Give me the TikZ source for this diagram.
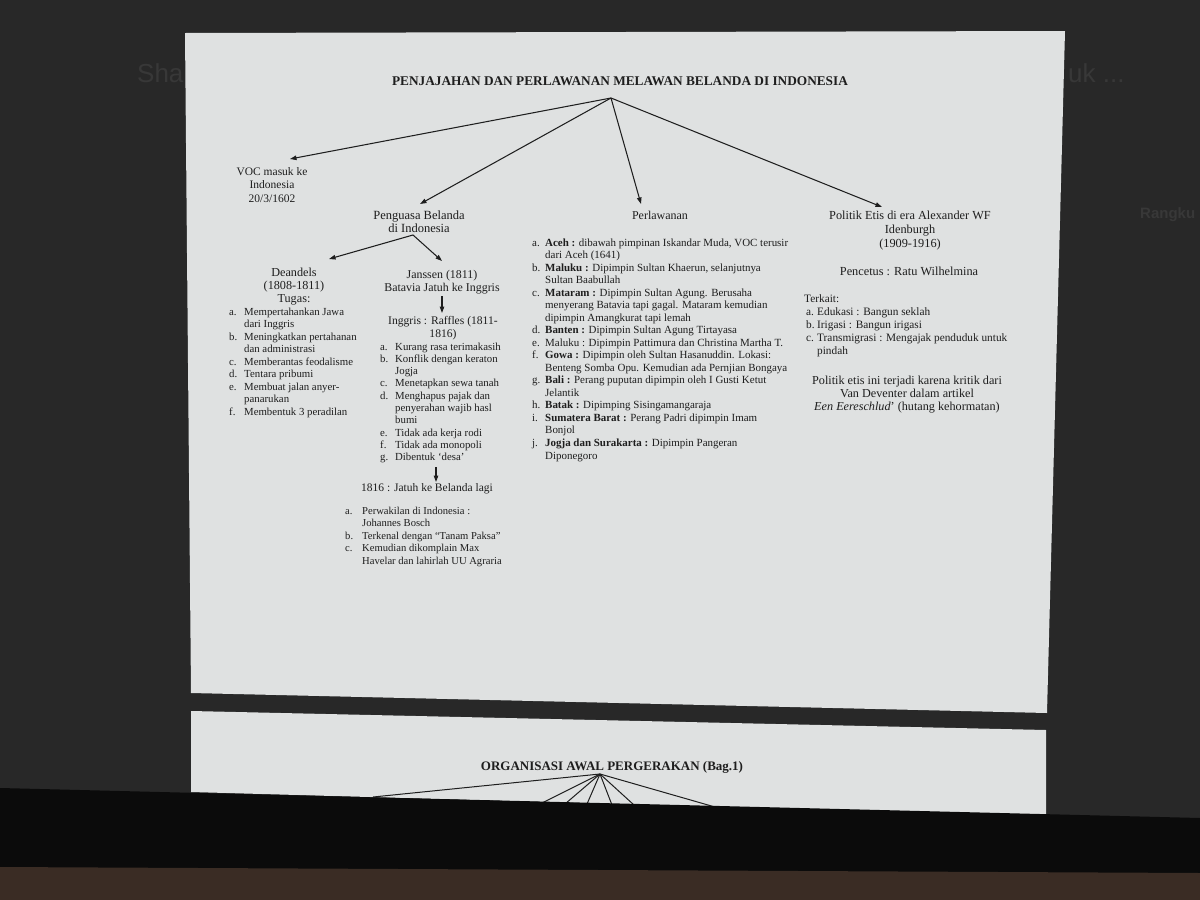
\documentclass[tikz,border=0pt]{standalone}
\usepackage{fontspec}
\setmainfont{Liberation Serif}
\newfontfamily\uifont{Liberation Sans}
\usetikzlibrary{arrows.meta}
\definecolor{scr}{HTML}{282828}
\definecolor{paper}{HTML}{DFE1E1}
\definecolor{ink}{HTML}{1E1E1E}
\definecolor{bezel}{HTML}{0B0B0B}
\definecolor{desk}{HTML}{3A2C24}
\definecolor{ghost}{HTML}{383838}
\newcommand{\mk}[1]{\makebox[13pt][l]{\hspace{2pt}#1}}
\tikzset{
  conn/.style={draw=ink, line width=1.05pt, -{Triangle[length=6.5pt,width=4.5pt]}},
  plainline/.style={draw=ink, line width=1pt},
  lbl/.style={inner sep=0pt, text=ink, font=\fontsize{12}{13}\selectfont, anchor=base},
  lst/.style={inner sep=0pt, text=ink, font=\fontsize{10.8}{12.5}\selectfont, anchor=base west},
  ttl/.style={inner sep=0pt, text=ink, font=\fontsize{13.3}{15}\selectfont\bfseries, anchor=base},
  ghosttxt/.style={inner sep=0pt, text=ghost, anchor=base west},
}
\begin{document}
\begin{tikzpicture}[x=1pt,y=-1pt]
\useasboundingbox (0,0) rectangle (1200,900);
% screen background
\fill[scr] (0,0) rectangle (1200,900);
\node[ghosttxt, font=\uifont\fontsize{26}{30}\selectfont] (ghsha) at (137,82) {Sha};
\node[ghosttxt, font=\uifont\fontsize{26}{30}\selectfont] (ghuk) at (1068,82) {uk ...};
\node[ghosttxt, font=\uifont\bfseries\fontsize{15}{18}\selectfont] (ghrang) at (1140,218) {Rangku};
% page 1
\fill[paper] (185,33) -- (1065,31) -- (1047,713) -- (191,693) -- cycle;
% page 2
\fill[paper] (191,711) -- (1046,730) -- (1046,816) -- (191,792) -- cycle;

% ---- page 1 content ----
\node[ttl] (title) at (620,85) {PENJAJAHAN DAN PERLAWANAN MELAWAN BELANDA DI INDONESIA};
\coordinate (r1) at (611,98);

\node[lbl, font=\fontsize{11.5}{13.5}\selectfont] (voc) at (272,175) {\begin{tabular}[t]{@{}c@{}}VOC masuk ke\\Indonesia\\20/3/1602\end{tabular}};
\node[lbl, font=\fontsize{12.5}{13}\selectfont] (peng) at (419,219) {\begin{tabular}[t]{@{}c@{}}Penguasa Belanda\\di Indonesia\end{tabular}};
\node[lbl] (perl) at (660,219) {Perlawanan};
\node[lbl, font=\fontsize{12.3}{14}\selectfont] (etis) at (910,219) {\begin{tabular}[t]{@{}c@{}}Politik Etis di era Alexander WF\\Idenburgh\\(1909-1916)\end{tabular}};

\coordinate (vocTip) at (290,159);
\coordinate (pengTip) at (420,204);
\coordinate (perlTip) at (641,204);
\coordinate (etisTip) at (882,207);
\draw[conn] (r1) -- (vocTip);
\draw[conn] (r1) -- (pengTip);
\draw[conn] (r1) -- (perlTip);
\draw[conn] (r1) -- (etisTip);

% Penguasa branch
\coordinate (r2) at (413,235);
\coordinate (deTip) at (329,259);
\coordinate (jaTip) at (442,261);
\draw[conn] (r2) -- (deTip);
\draw[conn] (r2) -- (jaTip);

\node[lbl, font=\fontsize{12.2}{13}\selectfont] (dean) at (294,276) {\begin{tabular}[t]{@{}c@{}}Deandels\\(1808-1811)\\Tugas:\end{tabular}};
\node[lst] (deanlist) at (229,315) {\begin{tabular}[t]{@{}p{15pt}@{}l@{}}
a. & Mempertahankan Jawa\\
   & dari Inggris\\
b. & Meningkatkan pertahanan\\
   & dan administrasi\\
c. & Memberantas feodalisme\\
d. & Tentara pribumi\\
e. & Membuat jalan anyer-\\
   & panarukan\\
f. & Membentuk 3 peradilan
\end{tabular}};

\node[lbl, font=\fontsize{11.9}{13}\selectfont] (jans) at (442,278) {\begin{tabular}[t]{@{}c@{}}Janssen (1811)\\Batavia Jatuh ke Inggris\end{tabular}};
\node[lbl, font=\fontsize{11.6}{13}\selectfont] (raff) at (443,324) {\begin{tabular}[t]{@{}c@{}}Inggris : Raffles (1811-\\1816)\end{tabular}};
\coordinate (jaBot) at (442,296);
\coordinate (raTop) at (442,313);
\draw[conn] (jaBot) -- (raTop);

\node[lst, font=\fontsize{10.8}{12.3}\selectfont] (rafflist) at (380,350) {\begin{tabular}[t]{@{}p{15pt}@{}l@{}}
a. & Kurang rasa terimakasih\\
b. & Konflik dengan keraton\\
   & Jogja\\
c. & Menetapkan sewa tanah\\
d. & Menghapus pajak dan\\
   & penyerahan wajib hasl\\
   & bumi\\
e. & Tidak ada kerja rodi\\
f. & Tidak ada monopoli\\
g. & Dibentuk ‘desa’
\end{tabular}};

\coordinate (raBot) at (436,467);
\coordinate (jtTop) at (436,482);
\draw[conn] (raBot) -- (jtTop);
\node[lbl, font=\fontsize{11.5}{13}\selectfont] (jatuh) at (427,491) {1816 : Jatuh ke Belanda lagi};

\node[lst, font=\fontsize{10.6}{12.6}\selectfont] (boschlist) at (345,514) {\begin{tabular}[t]{@{}p{17pt}@{}l@{}}
a. & Perwakilan di Indonesia :\\
   & Johannes Bosch\\
b. & Terkenal dengan “Tanam Paksa”\\
c. & Kemudian dikomplain Max\\
   & Havelar dan lahirlah UU Agraria
\end{tabular}};

% Perlawanan list
\node[lst, font=\fontsize{10.95}{12.53}\selectfont] (perllist) at (532,246) {\begin{tabular}[t]{@{}p{13pt}@{}l@{}}
a. & \textbf{Aceh :} dibawah pimpinan Iskandar Muda, VOC terusir\\
   & dari Aceh (1641)\\
b. & \textbf{Maluku :} Dipimpin Sultan Khaerun, selanjutnya\\
   & Sultan Baabullah\\
c. & \textbf{Mataram :} Dipimpin Sultan Agung. Berusaha\\
   & menyerang Batavia tapi gagal. Mataram kemudian\\
   & dipimpin Amangkurat tapi lemah\\
d. & \textbf{Banten :} Dipimpin Sultan Agung Tirtayasa\\
e. & Maluku : Dipimpin Pattimura dan Christina Martha T.\\
f. & \textbf{Gowa :} Dipimpin oleh Sultan Hasanuddin. Lokasi:\\
   & Benteng Somba Opu. Kemudian ada Pernjian Bongaya\\
g. & \textbf{Bali :} Perang puputan dipimpin oleh I Gusti Ketut\\
   & Jelantik\\
h. & \textbf{Batak :} Dipimping Sisingamangaraja\\
i. & \textbf{Sumatera Barat :} Perang Padri dipimpin Imam\\
   & Bonjol\\
j. & \textbf{Jogja dan Surakarta :} Dipimpin Pangeran\\
   & Diponegoro
\end{tabular}};

% Politik etis branch
\node[lbl, font=\fontsize{12.3}{14}\selectfont] (pencetus) at (909,275) {Pencetus : Ratu Wilhelmina};
\node[lst, font=\fontsize{11.3}{13}\selectfont] (terkait) at (804,302) {\begin{tabular}[t]{@{}l@{}l@{}}
\multicolumn{2}{@{}l@{}}{Terkait:}\\
\mk{a.} & Edukasi : Bangun seklah\\
\mk{b.} & Irigasi : Bangun irigasi\\
\mk{c.} & Transmigrasi : Mengajak penduduk untuk\\
\mk{}   & pindah
\end{tabular}};
\node[lbl, font=\fontsize{12.2}{13}\selectfont] (kritik) at (907,384) {\begin{tabular}[t]{@{}c@{}}Politik etis ini terjadi karena kritik dari\\Van Deventer dalam artikel\\\textit{Een Eereschlud}' (hutang kehormatan)\end{tabular}};

% ---- page 2 content ----
\node[ttl, font=\fontsize{13}{15}\selectfont\bfseries] (title2) at (612,770) {ORGANISASI AWAL PERGERAKAN (Bag.1)};
\coordinate (q) at (600,774);
\coordinate (e1) at (373,797);
\coordinate (e2) at (542,803);
\coordinate (e3) at (565,804);
\coordinate (e4) at (587,804);
\coordinate (e5) at (612,805);
\coordinate (e6) at (634,805);
\coordinate (e7) at (715,807);
\foreach \e in {e1,e2,e3,e4,e5,e6,e7} \draw[plainline] (q) -- (\e);

% bezel and desk
\fill[bezel] (0,788) -- (1200,818) -- (1200,900) -- (0,900) -- cycle;
\fill[desk] (0,867) -- (1200,873) -- (1200,900) -- (0,900) -- cycle;
\end{tikzpicture}
\end{document}
